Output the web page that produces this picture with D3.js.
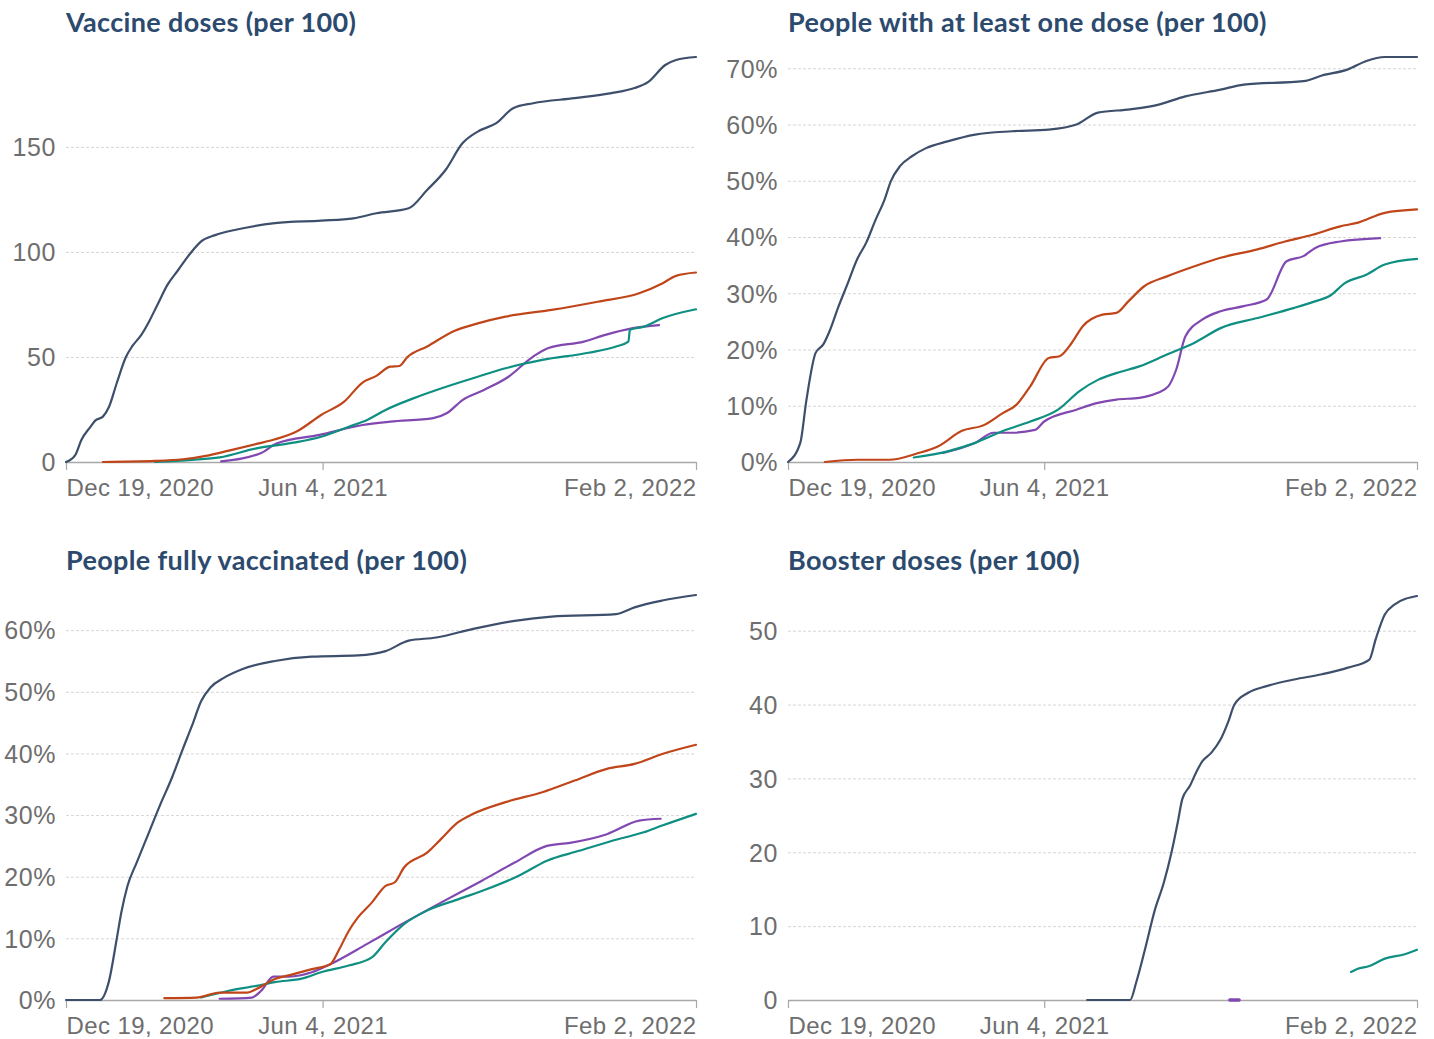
<!DOCTYPE html>
<html>
<head>
<meta charset="utf-8">
<script src="https://cdn.jsdelivr.net/npm/d3@7"></script>
<style>
  body { margin: 0; background: #fff; }
  svg { display: block; font-family: Lato, "Open Sans", sans-serif; }
  .title { font-weight: 700; font-size: 27px; fill: #2c4a6e; letter-spacing: 0.35px; }
  .y-axis .tick text { font-size: 25px; fill: #6e6e6e; letter-spacing: 0.6px; }
  .x-axis .tick text { font-size: 24px; fill: #6e6e6e; letter-spacing: 0.4px; }
</style>
</head>
<body>
<svg id="chart" width="1434" height="1039"></svg>
<script>
// Date range shared by every panel
var startDate = "2020-12-19";
var endDate = "2022-02-02";
var xTicks = ["2020-12-19", "2021-06-04", "2022-02-02"];

// Colours of the four series
var seriesColors = { navy: "#3d4f6b", orange: "#c0461a", teal: "#0f8f82", purple: "#8048b0" };

// Vaccine doses (per 100)
var dosesNavy = [["2020-12-19",0],["2020-12-25",3.3],["2020-12-29",10.5],["2021-01-04",16.8],["2021-01-07",19.7],["2021-01-12",21.6],["2021-01-16",26.3],["2021-01-21",37.5],["2021-01-27",50],["2021-01-31",55],["2021-02-06",60.5],["2021-02-11",66.8],["2021-02-17",75.6],["2021-02-23",84.3],["2021-03-02",91.4],["2021-03-10",99.4],["2021-03-17",105],["2021-03-26",108],["2021-04-10",110.8],["2021-05-04",113.7],["2021-06-03",114.9],["2021-06-24",116],["2021-07-09",118.4],["2021-07-30",120.8],["2021-08-11",129.5],["2021-08-23",139],["2021-09-03",151.7],["2021-09-13",157.3],["2021-09-25",161.3],["2021-10-06",168.4],["2021-10-19",170.8],["2021-11-15",173.2],["2021-12-09",175.6],["2021-12-24",178],["2022-01-02",181],["2022-01-13",189],["2022-01-20",191.4],["2022-02-02",192.8]];
var dosesOrange = [["2021-01-12",0],["2021-02-15",0.5],["2021-03-05",1.3],["2021-03-20",2.9],["2021-04-04",5.4],["2021-04-22",8.6],["2021-05-04",10.8],["2021-05-19",14.9],["2021-06-03",22.4],["2021-06-18",28.7],["2021-06-30",37.8],["2021-07-09",41],["2021-07-18",45.4],["2021-07-24",45.7],["2021-07-29",49.8],["2021-08-11",55],["2021-08-29",62.5],["2021-09-13",66],["2021-10-01",69.2],["2021-10-31",72.4],["2021-11-30",76.3],["2021-12-27",80.3],["2022-01-11",85],["2022-01-20",88.6],["2022-02-02",90.2]];
var dosesTeal = [["2021-02-15",0],["2021-03-11",1],["2021-03-29",2.2],["2021-04-22",6.5],["2021-05-16",9.2],["2021-06-03",12],["2021-06-21",16.8],["2021-07-03",20],["2021-07-15",24.8],["2021-08-02",30.3],["2021-08-20",35],["2021-09-13",40.6],["2021-10-01",44.6],["2021-10-25",48.6],["2021-11-24",52],["2021-12-12",55],["2021-12-20",57.3],["2021-12-21",62.9],["2021-12-30",64.4],["2022-01-11",68.4],["2022-02-02",72.7]];
var dosesPurple = [["2021-03-30",0.3],["2021-04-25",4.3],["2021-05-05",8.8],["2021-06-02",12.9],["2021-06-30",17.6],["2021-07-18",19.2],["2021-08-15",20.9],["2021-08-24",23.3],["2021-09-03",29.5],["2021-09-17",34.3],["2021-10-03",40.6],["2021-10-19",50.2],["2021-10-29",54.3],["2021-11-21",57.3],["2021-12-05",60.5],["2021-12-23",63.7],["2022-01-09",65.2]];

// People with at least one dose (per 100)
var firstNavy = [["2020-12-19",0],["2020-12-27",3.4],["2020-12-31",11],["2021-01-06",19.4],["2021-01-11",20.9],["2021-01-15",23.2],["2021-01-21",27.7],["2021-01-27",31.8],["2021-02-02",36],["2021-02-08",39],["2021-02-14",43],["2021-02-20",46.7],["2021-02-24",49.9],["2021-03-02",52.6],["2021-03-10",54.4],["2021-03-19",55.8],["2021-04-02",57],["2021-04-20",58.2],["2021-05-14",58.8],["2021-06-07",59.1],["2021-06-25",60],["2021-07-09",62.1],["2021-07-30",62.7],["2021-08-17",63.5],["2021-09-04",65],["2021-09-27",66.2],["2021-10-12",67.1],["2021-11-20",67.7],["2021-12-02",68.7],["2021-12-19",69.8],["2021-12-31",71.3],["2022-01-12",72],["2022-02-02",72]];
var firstOrange = [["2021-01-12",0],["2021-02-02",0.4],["2021-02-23",0.4],["2021-03-13",1.5],["2021-03-27",2.8],["2021-04-11",5.5],["2021-04-26",6.6],["2021-05-08",8.7],["2021-05-17",10.2],["2021-05-26",13.5],["2021-06-07",18.5],["2021-06-14",18.8],["2021-06-22",21.2],["2021-06-29",24.1],["2021-07-12",26.2],["2021-07-21",26.5],["2021-07-29",28.6],["2021-08-08",31.2],["2021-08-23",33],["2021-09-10",34.8],["2021-09-27",36.3],["2021-10-21",37.8],["2021-11-08",39.2],["2021-11-26",40.4],["2021-12-14",41.9],["2021-12-25",42.5],["2022-01-12",44.3],["2022-02-02",44.9]];
var firstTeal = [["2021-03-11",0.8],["2021-04-02",1.9],["2021-04-20",3.4],["2021-05-08",5.5],["2021-05-26",7.2],["2021-06-13",9.3],["2021-06-27",12.6],["2021-07-09",14.6],["2021-07-21",15.8],["2021-08-05",17],["2021-08-23",19.1],["2021-09-10",21.2],["2021-09-27",23.8],["2021-10-21",25.6],["2021-11-14",27.4],["2021-11-28",28.6],["2021-12-07",29.5],["2021-12-17",31.8],["2021-12-31",33.3],["2022-01-12",35.1],["2022-02-02",36.1]];
var firstPurple = [["2021-03-30",1.6],["2021-04-20",3.4],["2021-05-02",5.2],["2021-05-14",5.2],["2021-05-29",5.7],["2021-06-04",7.2],["2021-06-25",9.3],["2021-07-09",10.5],["2021-07-21",11.1],["2021-08-05",11.4],["2021-08-17",12.3],["2021-08-24",13.5],["2021-08-29",16.4],["2021-09-04",22.3],["2021-09-15",25.3],["2021-09-27",26.8],["2021-10-12",27.7],["2021-10-27",28.9],["2021-11-09",35.7],["2021-11-20",36.6],["2021-11-28",38.1],["2021-12-14",39.2],["2022-01-09",39.8]];

// People fully vaccinated (per 100)
var fullNavy = [["2020-12-19",0],["2021-01-10",0],["2021-01-16",3.1],["2021-01-21",9.9],["2021-01-24",14.2],["2021-01-28",18.5],["2021-02-03",22.3],["2021-02-11",27.2],["2021-02-18",31.5],["2021-02-26",36.1],["2021-03-05",40.7],["2021-03-11",44.5],["2021-03-17",48.5],["2021-03-23",50.7],["2021-04-01",52.3],["2021-04-13",53.7],["2021-05-04",55],["2021-05-28",55.7],["2021-06-27",55.9],["2021-07-15",56.6],["2021-07-30",58.3],["2021-08-17",58.8],["2021-09-10",60.2],["2021-10-07",61.5],["2021-10-31",62.2],["2021-12-12",62.6],["2021-12-24",63.7],["2022-01-11",64.8],["2022-02-02",65.7]];
var fullOrange = [["2021-02-21",0.3],["2021-03-14",0.4],["2021-03-29",1.2],["2021-04-16",1.2],["2021-04-22",1.8],["2021-05-04",3.4],["2021-05-16",4.2],["2021-05-28",5],["2021-06-09",5.8],["2021-06-15",8.3],["2021-06-21",11.2],["2021-06-27",13.4],["2021-07-06",15.8],["2021-07-15",18.5],["2021-07-21",19.1],["2021-07-27",21.5],["2021-08-11",23.9],["2021-08-20",26.1],["2021-08-31",28.8],["2021-09-10",30.2],["2021-10-01",32.1],["2021-10-25",33.7],["2021-11-15",35.6],["2021-12-06",37.5],["2021-12-24",38.3],["2022-01-11",39.9],["2022-02-02",41.4]];
var fullTeal = [["2021-03-17",0.4],["2021-04-04",1.5],["2021-04-22",2.3],["2021-05-04",2.9],["2021-05-22",3.5],["2021-06-03",4.5],["2021-06-21",5.6],["2021-07-06",6.9],["2021-07-15",9.4],["2021-07-27",12.3],["2021-08-11",14.5],["2021-09-01",16.4],["2021-09-19",18],["2021-10-10",20.2],["2021-10-28",22.6],["2021-11-18",24.2],["2021-12-09",25.8],["2021-12-30",27.2],["2022-01-11",28.3],["2022-02-02",30.2]];
var fullPurple = [["2021-03-29",0.2],["2021-04-19",0.4],["2021-04-25",1.5],["2021-05-03",3.8],["2021-05-13",3.8],["2021-05-28",4.5],["2021-06-09",5.8],["2021-07-03",9.1],["2021-07-24",12.1],["2021-08-20",15.8],["2021-09-16",19.4],["2021-10-07",22.3],["2021-10-28",25],["2021-11-12",25.5],["2021-12-06",26.9],["2021-12-27",29.1],["2022-01-10",29.4]];

// Booster doses (per 100)
var boosterNavy = [["2021-07-02",0],["2021-07-30",0],["2021-08-03",2.4],["2021-08-09",7.1],["2021-08-15",12.1],["2021-08-21",15.9],["2021-08-26",20],["2021-08-30",24],["2021-09-02",27.2],["2021-09-07",29],["2021-09-11",30.8],["2021-09-15",32.3],["2021-09-21",33.5],["2021-09-27",35.3],["2021-10-02",37.7],["2021-10-06",40],["2021-10-15",41.6],["2021-10-27",42.5],["2021-11-14",43.4],["2021-12-02",44.1],["2021-12-19",45],["2022-01-02",46.1],["2022-01-06",48.8],["2022-01-12",52.2],["2022-01-18",53.5],["2022-02-02",54.7]];
var boosterTeal = [["2021-12-21",3.8],["2021-12-25",4.2],["2022-01-02",4.6],["2022-01-12",5.6],["2022-01-25",6.2],["2022-02-02",6.8]];
var boosterPurple = [["2021-10-03",0],["2021-10-09",0]];

// Y tick labels per panel
var dosesTicks = [0, 50, 100, 150];
var firstTicks = [0, 10, 20, 30, 40, 50, 60, 70];
var fullTicks = [0, 10, 20, 30, 40, 50, 60];
var boosterTicks = [0, 10, 20, 30, 40, 50];

var parse = d3.timeParse("%Y-%m-%d");
var fmtDate = d3.timeFormat("%b %-d, %Y");

var panels = [
    { title: "Vaccine doses (per 100)", left: 66, right: 696, top: 57, bottom: 462, ticks: dosesTicks, pct: false,
      series: { navy: dosesNavy, orange: dosesOrange, teal: dosesTeal, purple: dosesPurple } },
    { title: "People with at least one dose (per 100)", left: 788, right: 1417, top: 57, bottom: 462, ticks: firstTicks, pct: true,
      series: { navy: firstNavy, orange: firstOrange, teal: firstTeal, purple: firstPurple } },
    { title: "People fully vaccinated (per 100)", left: 66, right: 696, top: 595, bottom: 1000, ticks: fullTicks, pct: true,
      series: { navy: fullNavy, orange: fullOrange, teal: fullTeal, purple: fullPurple } },
    { title: "Booster doses (per 100)", left: 788, right: 1417, top: 596, bottom: 1000, ticks: boosterTicks, pct: false,
      series: { navy: boosterNavy, teal: boosterTeal, purple: boosterPurple } }
];

var svg = d3.select("#chart");

panels.forEach(function (p) {
    var g = svg.append("g");
    var allValues = [];
    Object.values(p.series).forEach(function (s) { s.forEach(function (d) { allValues.push(d[1]); }); });

    var x = d3.scaleTime().domain([parse(startDate), parse(endDate)]).range([p.left, p.right]);
    var y = d3.scaleLinear().domain([0, d3.max(allValues)]).range([p.bottom, p.top]);

    // Title
    g.append("text")
        .attr("class", "title")
        .attr("x", p.left)
        .attr("y", p.bottom - 430)
        .text(p.title);

    // Grid lines + y labels
    var yAxis = d3.axisLeft(y)
        .tickValues(p.ticks)
        .tickSize(-(p.right - p.left))
        .tickFormat(function (v) { return p.pct ? v + "%" : v; });
    var ya = g.append("g").attr("class", "y-axis").attr("transform", `translate(${p.left},0)`).call(yAxis);
    ya.select(".domain").remove();
    ya.selectAll(".tick line")
        .attr("stroke", "#d6d6d6")
        .attr("stroke-dasharray", "3,2")
        .attr("x1", 0);
    ya.selectAll(".tick text").attr("x", -10).attr("dy", "0.35em");
    ya.selectAll(".tick").filter(function (v) { return v === 0; }).select("line").remove();

    // Date axis
    var xAxis = d3.axisBottom(x)
        .tickValues(xTicks.map(parse))
        .tickSize(8)
        .tickSizeOuter(0)
        .tickFormat(fmtDate);
    var xa = g.append("g").attr("class", "x-axis").attr("transform", `translate(0,${p.bottom})`).call(xAxis);
    xa.select(".domain").attr("stroke", "#a8a8a8").attr("stroke-width", 1.5);
    xa.selectAll(".tick line").attr("stroke", "#a8a8a8").attr("stroke-width", 1.2);
    xa.selectAll(".tick text").attr("y", 34).attr("dy", null)
        .attr("text-anchor", function (d, i) { return i === 0 ? "start" : i === xTicks.length - 1 ? "end" : "middle"; });

    // Lines
    var line = d3.line()
        .curve(d3.curveMonotoneX)
        .x(function (d) { return x(parse(d[0])); })
        .y(function (d) { return y(d[1]); });

    ["purple", "teal", "orange", "navy"].forEach(function (key) {
        var data = p.series[key];
        if (!data) return;
        g.append("path")
            .datum(data)
            .attr("fill", "none")
            .attr("stroke", seriesColors[key])
            .attr("stroke-width", key === "purple" && data.length < 3 ? 3.5 : 2.2)
            .attr("stroke-linejoin", "round")
            .attr("stroke-linecap", "round")
            .attr("d", line);
    });
});
</script>
</body>
</html>
